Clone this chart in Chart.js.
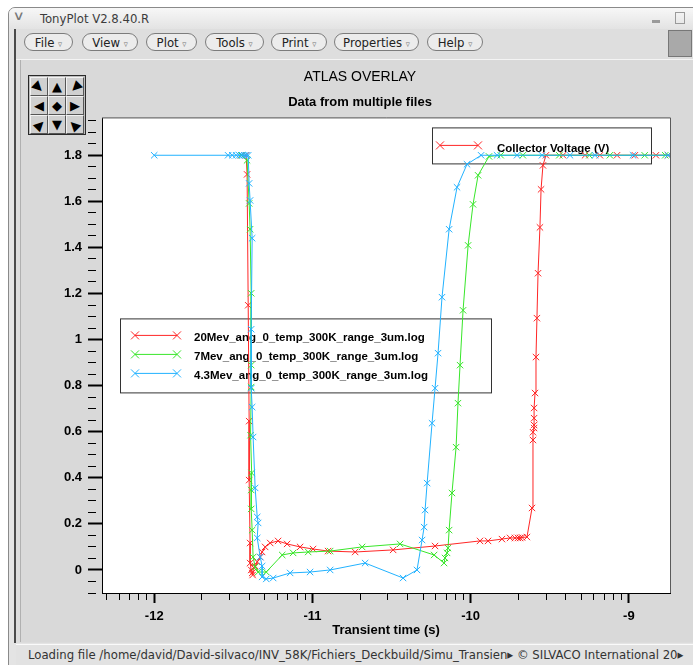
<!DOCTYPE html>
<html>
<head>
<meta charset="utf-8">
<title>TonyPlot V2.8.40.R</title>
<script src="https://cdn.jsdelivr.net/npm/chart.js@4.4.1/dist/chart.umd.min.js"></script>
<style>
  html, body { margin: 0; padding: 0; background: #fff; width: 693px; height: 665px; overflow: hidden; }
  body { position: relative; font-family: "Liberation Sans Narrow", "DejaVu Sans Condensed", "Liberation Sans", sans-serif; }
  .abs { position: absolute; }
  #frame { left: 8px; top: 7px; width: 700px; height: 660px; border: 1px solid #8a8a8a; border-top-left-radius: 7px; background: #e4e4e4; }
  #titlebar { left: 9px; top: 8px; width: 700px; height: 21px; border-top-left-radius: 6px; background: linear-gradient(#f7f7f7, #e3e3e3); }
  #titletext { left: 40px; top: 11px; font-size: 13px; color: #3c3c3c; line-height: 15px; }
  #chev { left: 14px; top: 8px; font-family: "DejaVu Sans", sans-serif; font-size: 13px; color: #777; transform: scaleX(1.3); }
  #minbtn { left: 652px; top: 20px; width: 8px; height: 3px; background: #9a9a9a; }
  #maxbtn { left: 675px; top: 12px; width: 8px; height: 10px; border: 1px solid #9a9a9a; }
  #client { left: 14px; top: 29px; width: 690px; height: 614px; background: #dcdcdc; border-left: 2px solid #4a4a4a; }
  #menubar { left: 16px; top: 29px; width: 690px; height: 30px; background: #dedede; border-bottom: 1px solid #f4f4f4; }
  .mbtn { position: absolute; top: 33px; height: 18px; line-height: 18px; border: 1px solid #7c7c7c; border-radius: 9px; background: #ececec; font-size: 13px; color: #222; text-align: center; box-sizing: border-box; }
  .mbtn span { font-size: 9px; color: #777; }
  #rightsq { left: 668px; top: 30px; width: 24px; height: 27px; background: #a9a9a9; border: 1px solid #777; box-sizing: border-box; }
  #panel { left: 20px; top: 60px; width: 672px; height: 582px; background: #d9d9d9; border-left: 1px solid #b0b0b0; }
  #status { left: 16px; top: 644px; width: 690px; height: 21px; background: #e2e2e2; border-top: 1px solid #fafafa; }
  #statustext { left: 28px; top: 647px; font-size: 13px; color: #333; white-space: nowrap; line-height: 15px; }
  #pad { left: 28px; top: 75px; width: 58px; height: 60px; border: 1px solid #2a2a2a; background: #bdbdbd; box-sizing: border-box; }
  .cell { position: absolute; width: 18px; height: 19px; box-sizing: border-box; border: 1px solid; border-color: #f2f2f2 #555 #555 #f2f2f2; background: #d0d0d0; font-family: "DejaVu Sans", sans-serif; font-size: 13px; line-height: 17px; text-align: center; color: #000; }
  .cell i { display: inline-block; font-style: normal; }
  #chart { left: 20px; top: 60px; }
</style>
</head>
<body>
<div id="frame" class="abs"></div>
<div id="titlebar" class="abs"></div>
<div id="chev" class="abs">&#8744;</div>
<div id="titletext" class="abs">TonyPlot V2.8.40.R</div>
<div id="minbtn" class="abs"></div>
<div id="maxbtn" class="abs"></div>
<div id="client" class="abs"></div>
<div id="menubar" class="abs"></div>
<div class="mbtn" style="left:24px;width:49px">File <span>&#9663;</span></div>
<div class="mbtn" style="left:82px;width:56px">View <span>&#9663;</span></div>
<div class="mbtn" style="left:146px;width:51px">Plot <span>&#9663;</span></div>
<div class="mbtn" style="left:205px;width:59px">Tools <span>&#9663;</span></div>
<div class="mbtn" style="left:271px;width:56px">Print <span>&#9663;</span></div>
<div class="mbtn" style="left:334px;width:85px">Properties <span>&#9663;</span></div>
<div class="mbtn" style="left:427px;width:56px">Help <span>&#9663;</span></div>
<div id="rightsq" class="abs"></div>
<div id="panel" class="abs"></div>
<div id="pad" class="abs">
  <div class="cell" style="left:1px;top:1px"><i style="transform:rotate(45deg)">&#9654;</i></div>
  <div class="cell" style="left:19px;top:1px"><i>&#9650;</i></div>
  <div class="cell" style="left:37px;top:1px"><i style="transform:rotate(-45deg)">&#9664;</i></div>
  <div class="cell" style="left:1px;top:20px"><i>&#9664;</i></div>
  <div class="cell" style="left:19px;top:20px"><i>&#9670;</i></div>
  <div class="cell" style="left:37px;top:20px"><i>&#9654;</i></div>
  <div class="cell" style="left:1px;top:39px"><i style="transform:rotate(-45deg)">&#9654;</i></div>
  <div class="cell" style="left:19px;top:39px"><i>&#9660;</i></div>
  <div class="cell" style="left:37px;top:39px"><i style="transform:rotate(45deg)">&#9664;</i></div>
</div>
<canvas id="chart" class="abs" width="670" height="582"></canvas>
<div id="status" class="abs"></div>
<div id="statustext" class="abs">Loading file /home/david/David-silvaco/INV_58K/Fichiers_Deckbuild/Simu_Transien&#9656; &#169; SILVACO International 20&#9656;</div>

<script>
// x values are log10 of the transient time (s), y values are collector voltage (V)
const logTime20 = [-11.45, -11.419, -11.413, -11.406, -11.400, -11.400, -11.394, -11.394, -11.387, -11.381,
  -11.378, -11.372, -11.362, -11.349, -11.330, -11.318, -11.299, -11.267, -11.217, -11.160,
  -11.078, -10.996, -10.901, -10.730, -10.490, -10.225, -9.941, -9.890, -9.802, -9.751,
  -9.720, -9.701, -9.688, -9.675, -9.644, -9.612, -9.606, -9.606, -9.599, -9.599,
  -9.599, -9.599, -9.593, -9.587, -9.581, -9.574, -9.562, -9.555, -9.543, -9.524,
  -9.416, -9.277, -9.183, -9.075, -8.962, -8.829, -8.753, -8.60];
const volt20 = [1.80, 1.80, 1.717, 1.149, 0.646, 0.390, 0.117, 0.030, 0.000, -0.013,
  -0.022, 0.010, 0.017, 0.035, 0.056, 0.078, 0.100, 0.117, 0.126, 0.113,
  0.100, 0.091, 0.082, 0.078, 0.087, 0.104, 0.126, 0.126, 0.134, 0.139,
  0.139, 0.139, 0.139, 0.141, 0.143, 0.269, 0.564, 0.598, 0.616, 0.629,
  0.659, 0.703, 0.768, 0.924, 1.093, 1.288, 1.487, 1.652, 1.756, 1.80,
  1.80, 1.80, 1.80, 1.80, 1.80, 1.80, 1.80, 1.80];

const logTime7 = [-11.45, -11.413, -11.400, -11.394, -11.387, -11.387, -11.387, -11.391, -11.384, -11.387,
  -11.387, -11.381, -11.375, -11.362, -11.343, -11.292, -11.191, -11.122, -11.027, -10.888,
  -10.686, -10.446, -10.231, -10.168, -10.162, -10.149, -10.143, -10.136, -10.118, -10.092,
  -10.080, -10.067, -10.048, -10.016, -9.985, -9.953, -9.884, -9.81, -9.67, -9.44,
  -9.25, -9.12, -8.90, -8.77, -8.60];
const volt7 = [1.80, 1.778, 1.591, 1.479, 1.201, 0.889, 0.794, 0.585, 0.421, 0.347,
  0.265, 0.173, 0.056, 0.013, -0.009, -0.009, 0.065, 0.074, 0.078, 0.082,
  0.100, 0.113, 0.065, 0.030, 0.052, 0.074, 0.095, 0.173, 0.334, 0.533,
  0.724, 0.889, 1.127, 1.409, 1.587, 1.713, 1.795, 1.80, 1.80, 1.80,
  1.80, 1.80, 1.80, 1.80, 1.80];

const logTime43 = [-12.0, -11.533, -11.507, -11.482, -11.463, -11.444, -11.431, -11.419, -11.406, -11.400,
  -11.394, -11.381, -11.387, -11.387, -11.381, -11.375, -11.362, -11.349, -11.343, -11.349,
  -11.330, -11.318, -11.318, -11.292, -11.248, -11.141, -11.015, -10.888, -10.667, -10.427,
  -10.339, -10.307, -10.294, -10.288, -10.275, -10.244, -10.225, -10.206, -10.181, -10.136,
  -10.086, -10.023, -9.934, -9.833, -9.707, -9.549, -9.372, -9.214, -8.974, -8.753, -8.60];
const volt43 = [1.80, 1.80, 1.80, 1.80, 1.80, 1.80, 1.80, 1.80, 1.80, 1.678,
  1.604, 1.440, 1.045, 0.789, 0.707, 0.577, 0.356, 0.230, 0.204, 0.139,
  0.056, 0.017, -0.030, -0.039, -0.035, -0.013, -0.009, 0.000, 0.030, -0.035,
  0.000, 0.130, 0.186, 0.260, 0.377, 0.637, 0.789, 0.941, 1.184, 1.479,
  1.661, 1.761, 1.80, 1.80, 1.80, 1.80, 1.80, 1.80, 1.80, 1.80, 1.80];

const fileNames = ['20Mev_ang_0_temp_300K_range_3um.log', '7Mev_ang_0_temp_300K_range_3um.log', '4.3Mev_ang_0_temp_300K_range_3um.log'];
const seriesColors = ['#ff2626', '#38e62a', '#22b2ff'];
const quantityLabel = 'Collector Voltage (V)';

const xMajor = [-12, -11, -10, -9];
const xLabels = ['-12', '-11', '-10', '-9'];
const yMajor = [0, 0.2, 0.4, 0.6, 0.8, 1, 1.2, 1.4, 1.6, 1.8];
const yLabels = ['0', '0.2', '0.4', '0.6', '0.8', '1', '1.2', '1.4', '1.6', '1.8'];

const xMin = -12.33, xMax = -8.74;
const yMin = -0.1, yMax = 1.96;

const fontFamily = '"Liberation Sans", Arial, sans-serif';
Chart.defaults.font.family = fontFamily;
Chart.defaults.color = '#000';

const toPoints = (t, v) => t.map((x, i) => ({ x: x, y: v[i] }));

// log-decade minor ticks (2..9 x 10^n) plus the decades
const xTicks = [];
for (let d = -13; d <= -9; d++) {
  for (let k = 1; k <= 9; k++) {
    const v = d + Math.log10(k);
    if (v >= xMin && v <= xMax) xTicks.push(v);
  }
}
const yTicks = [];
for (let i = Math.round(yMin * 20); i / 20 <= yMax; i++) yTicks.push(i / 20);

const isMajor = (list, v) => list.findIndex(m => Math.abs(m - v) < 1e-6);

const plotFrame = {
  id: 'plotFrame',
  beforeDraw(chart) {
    const { ctx, chartArea: a } = chart;
    ctx.save();
    ctx.fillStyle = '#fff';
    ctx.fillRect(a.left, a.top, a.right - a.left, a.bottom - a.top);
    ctx.restore();
  },
  afterDraw(chart) {
    const { ctx, chartArea: a } = chart;
    ctx.save();
    ctx.strokeStyle = '#5a5a5a';
    ctx.lineWidth = 1;
    ctx.beginPath();
    ctx.moveTo(a.left, a.top - 0.5);
    ctx.lineTo(a.right + 0.5, a.top - 0.5);
    ctx.lineTo(a.right + 0.5, a.bottom);
    ctx.stroke();
    ctx.restore();
  }
};

function crossMark(ctx, x, y, r) {
  ctx.beginPath();
  ctx.moveTo(x - r, y - r); ctx.lineTo(x + r, y + r);
  ctx.moveTo(x - r, y + r); ctx.lineTo(x + r, y - r);
  ctx.stroke();
}

function sample(ctx, x1, x2, y, color) {
  ctx.strokeStyle = color;
  ctx.lineWidth = 1;
  ctx.beginPath();
  ctx.moveTo(x1, y); ctx.lineTo(x2, y);
  ctx.stroke();
  crossMark(ctx, x1, y, 4);
  crossMark(ctx, x2, y, 4);
}

function box(ctx, x, y, w, h) {
  ctx.fillStyle = '#fff';
  ctx.fillRect(x, y, w, h);
  ctx.strokeStyle = '#333';
  ctx.lineWidth = 1;
  ctx.strokeRect(x + 0.5, y + 0.5, w, h);
}

// the two TonyPlot legend boxes sit inside the plot, under the curves
const overlayLegends = {
  id: 'overlayLegends',
  beforeDatasetsDraw(chart) {
    const { ctx, chartArea: a } = chart;
    ctx.save();
    ctx.font = 'bold 11.5px ' + fontFamily;
    ctx.textBaseline = 'middle';

    box(ctx, a.left + 330, a.top + 9, 219, 36);
    sample(ctx, a.left + 338, a.left + 376, a.top + 27, seriesColors[0]);
    ctx.fillStyle = '#000';
    ctx.fillText(quantityLabel, a.left + 395, a.top + 30);

    box(ctx, a.left + 18, a.top + 200, 371, 74);
    fileNames.forEach((name, i) => {
      const y = a.top + 217 + i * 19;
      sample(ctx, a.left + 33, a.left + 75, y, seriesColors[i]);
      ctx.fillStyle = '#000';
      ctx.fillText(name, a.left + 92, y + 2);
    });
    ctx.restore();
  }
};

const series = [toPoints(logTime20, volt20), toPoints(logTime7, volt7), toPoints(logTime43, volt43)];

new Chart(document.getElementById('chart'), {
  type: 'scatter',
  data: {
    datasets: series.map((pts, i) => ({
      label: fileNames[i],
      data: pts,
      showLine: true,
      borderColor: seriesColors[i],
      backgroundColor: seriesColors[i],
      borderWidth: 1,
      tension: 0,
      pointStyle: 'crossRot',
      pointRadius: 4.5,
      pointBorderWidth: 1,
      order: 2 - i
    }))
  },
  options: {
    responsive: false,
    animation: false,
    events: [],
    devicePixelRatio: 1,
    layout: { padding: { left: 30, right: 20, top: 0, bottom: 0 } },
    plugins: {
      legend: { display: false },
      tooltip: { enabled: false },
      title: {
        display: true,
        text: 'ATLAS OVERLAY',
        color: '#000',
        font: { size: 14, weight: 'normal' },
        padding: { top: 9, bottom: 0 }
      },
      subtitle: {
        display: true,
        text: 'Data from multiple files',
        color: '#000',
        font: { size: 13, weight: 'bold' },
        padding: { top: 9, bottom: 8 }
      }
    },
    scales: {
      x: {
        type: 'linear',
        position: 'bottom',
        min: xMin,
        max: xMax,
        afterBuildTicks: (scale) => { scale.ticks = xTicks.map(v => ({ value: v })); },
        afterFit: (scale) => { scale.height = 49; },
        border: { display: true, color: '#000', width: 1 },
        grid: {
          drawOnChartArea: false,
          drawTicks: true,
          tickLength: 10,
          tickColor: '#000',
          tickWidth: (ctx) => isMajor(xMajor, ctx.tick.value) >= 0 ? 2 : 1,
          tickBorderDash: (ctx) => isMajor(xMajor, ctx.tick.value) >= 0 ? [] : [6, 30]
        },
        ticks: {
          autoSkip: false,
          maxRotation: 0,
          padding: 6,
          color: '#000',
          font: { size: 13, weight: 'bold' },
          callback: (value) => { const k = isMajor(xMajor, value); return k >= 0 ? xLabels[k] : ''; }
        },
        title: {
          display: true,
          text: 'Transient time (s)',
          color: '#000',
          font: { size: 13, weight: 'bold' },
          padding: { top: 0, bottom: 4 }
        }
      },
      y: {
        type: 'linear',
        min: yMin,
        max: yMax,
        afterBuildTicks: (scale) => { scale.ticks = yTicks.map(v => ({ value: v })); },
        afterFit: (scale) => { scale.width = 52; },
        border: { display: true, color: '#000', width: 1 },
        grid: {
          drawOnChartArea: false,
          drawTicks: true,
          tickLength: 14,
          tickColor: '#000',
          tickWidth: (ctx) => isMajor(yMajor, ctx.tick.value) >= 0 ? 2 : 1,
          tickBorderDash: (ctx) => isMajor(yMajor, ctx.tick.value) >= 0 ? [] : [8, 30]
        },
        ticks: {
          autoSkip: false,
          padding: 6,
          color: '#000',
          font: { size: 13, weight: 'bold' },
          callback: (value) => { const k = isMajor(yMajor, value); return k >= 0 ? yLabels[k] : ''; }
        }
      }
    }
  },
  plugins: [plotFrame, overlayLegends]
});
</script>
</body>
</html>
